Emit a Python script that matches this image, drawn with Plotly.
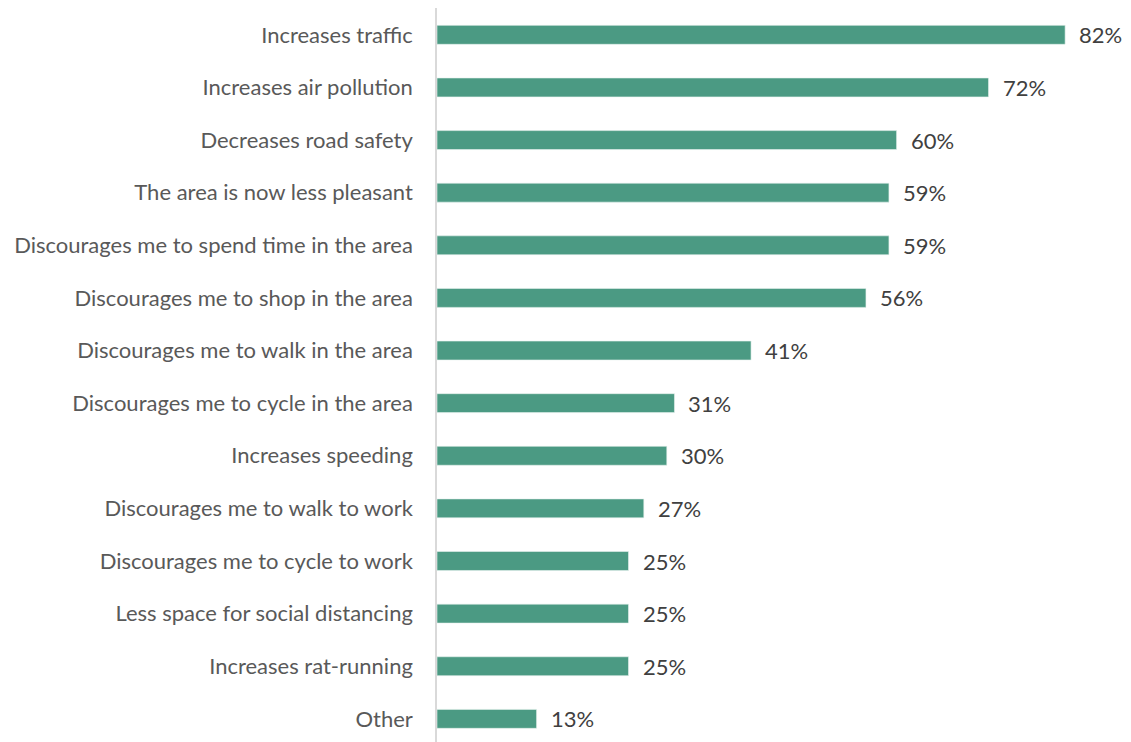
import plotly.graph_objects as go

categories = [
    "Increases traffic",
    "Increases air pollution",
    "Decreases road safety",
    "The area is now less pleasant",
    "Discourages me to spend time in the area",
    "Discourages me to shop in the area",
    "Discourages me to walk in the area",
    "Discourages me to cycle in the area",
    "Increases speeding",
    "Discourages me to walk to work",
    "Discourages me to cycle to work",
    "Less space for social distancing",
    "Increases rat-running",
    "Other",
]
values = [82, 72, 60, 59, 59, 56, 41, 31, 30, 27, 25, 25, 25, 13]

FONT = "Lato"
BAR_COLOR = "#4B9A83"

fig = go.Figure(
    go.Bar(
        x=values,
        y=categories,
        orientation="h",
        marker=dict(color=BAR_COLOR, line=dict(color="#E8F2EE", width=0.6)),
        width=0.36,
        hoverinfo="skip",
    )
)

for cat, v in zip(categories, values):
    fig.add_annotation(
        x=v, y=cat, text=f"{v}%", showarrow=False,
        xanchor="left", yanchor="middle", xshift=12,
        font=dict(family=FONT, size=22, color="#404040"),
    )

fig.update_layout(
    width=1131, height=742,
    margin=dict(l=437, r=0, t=8, b=0),
    plot_bgcolor="white", paper_bgcolor="white",
    showlegend=False,
    font=dict(family=FONT, size=22, color="#595959"),
)
fig.update_xaxes(range=[0, 90.6], visible=False, showgrid=False)
fig.update_yaxes(
    categoryorder="array", categoryarray=categories,
    range=[13.44, -0.51],
    showline=True, linecolor="#D9D9D9", linewidth=1.5,
    ticks="", showgrid=False, zeroline=False,
    ticklabelstandoff=18,
    tickfont=dict(family=FONT, size=22, color="#595959"),
)

fig.write_html("out.html")
